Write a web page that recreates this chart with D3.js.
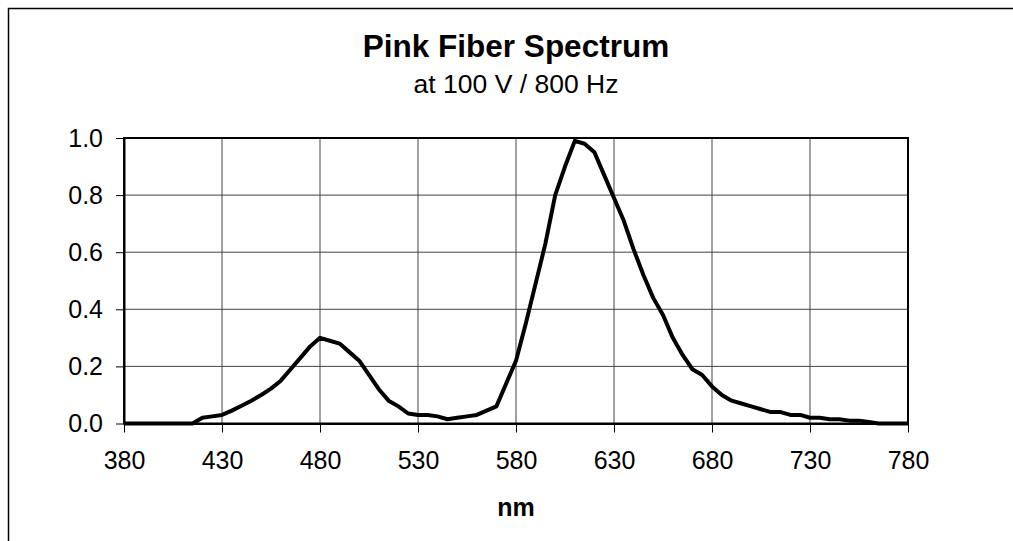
<!DOCTYPE html>
<html>
<head>
<meta charset="utf-8">
<script src="https://cdn.jsdelivr.net/npm/d3@7"></script>
<style>
  html, body { margin: 0; padding: 0; background: #fff; }
  svg { display: block; font-family: "Liberation Sans", Arial, sans-serif; }
</style>
</head>
<body>
<svg id="chart" width="1013" height="541"></svg>
<script>
// ---- Data ----
const wavelengths = [
  380,385,390,395,400,405,410,415,420,425,430,435,440,445,450,455,460,465,470,475,
  480,485,490,495,500,505,510,515,520,525,530,535,540,545,550,555,560,565,570,575,
  580,585,590,595,600,605,610,615,620,625,630,635,640,645,650,655,660,665,670,675,
  680,685,690,695,700,705,710,715,720,725,730,735,740,745,750,755,760,765,770,775,780
];
const intensity = [
  0,0,0,0,0,0,0,0,0.02,0.025,0.03,0.045,0.062,0.08,0.10,0.122,0.15,0.19,0.23,0.27,
  0.30,0.29,0.28,0.25,0.22,0.17,0.12,0.08,0.06,0.035,0.03,0.03,0.025,0.015,0.02,0.025,0.03,0.045,0.06,0.14,
  0.22,0.35,0.49,0.63,0.80,0.90,0.99,0.98,0.95,0.87,0.79,0.71,0.61,0.52,0.44,0.38,0.30,0.24,0.19,0.17,
  0.13,0.10,0.08,0.07,0.06,0.05,0.04,0.04,0.03,0.03,0.02,0.02,0.015,0.015,0.01,0.01,0.005,0,0,0,0
];
const xTicks = [380,430,480,530,580,630,680,730,780];
const yTicks = [0.0,0.2,0.4,0.6,0.8,1.0];
const titleText = "Pink Fiber Spectrum";
const subtitleText = "at 100 V / 800 Hz";
const xAxisTitle = "nm";

// ---- Layout ----
const svg = d3.select("#chart");
const plot = { left: 124, right: 908, top: 138, bottom: 423.5 };

const x = d3.scaleLinear().domain([380, 780]).range([plot.left, plot.right]);
const y = d3.scaleLinear().domain([0, 1]).range([plot.bottom, plot.top]);

// outer chart frame (extends past right/bottom edge)
svg.append("rect")
  .attr("x", 8.5).attr("y", 8.5)
  .attr("width", 1100).attr("height", 600)
  .attr("fill", "#fff").attr("stroke", "#000").attr("stroke-width", 1.5);

// gridlines
const grid = svg.append("g");
grid.selectAll("line.v").data(xTicks).join("line")
  .attr("x1", d => x(d)).attr("x2", d => x(d))
  .attr("y1", plot.top).attr("y2", plot.bottom)
  .attr("stroke", "#444").attr("stroke-width", 1);
grid.selectAll("line.h").data(yTicks).join("line")
  .attr("x1", plot.left).attr("x2", plot.right)
  .attr("y1", d => y(d)).attr("y2", d => y(d))
  .attr("stroke", "#444").attr("stroke-width", 1);

// plot border
svg.append("rect")
  .attr("x", plot.left).attr("y", plot.top)
  .attr("width", plot.right - plot.left).attr("height", plot.bottom - plot.top)
  .attr("fill", "none").attr("stroke", "#000").attr("stroke-width", 2);

// axes
const xAxis = d3.axisBottom(x).tickValues(xTicks).tickSize(9).tickSizeOuter(0).tickPadding(19)
  .tickFormat(d3.format("d"));
const gx = svg.append("g").attr("transform", `translate(0,${plot.bottom})`).call(xAxis);
gx.select(".domain").attr("stroke", "#000").attr("stroke-width", 2);
gx.selectAll(".tick line").attr("stroke", "#000").attr("stroke-width", 1);
gx.selectAll(".tick text").attr("font-size", 25).attr("fill", "#000")
  .attr("font-family", "Liberation Sans, Arial, sans-serif");

const yAxis = d3.axisLeft(y).tickValues(yTicks).tickSize(8).tickSizeOuter(0).tickPadding(13)
  .tickFormat(d3.format(".1f"));
const gy = svg.append("g").attr("transform", `translate(${plot.left},0)`).call(yAxis);
gy.select(".domain").attr("stroke", "#000").attr("stroke-width", 2);
gy.selectAll(".tick line").attr("stroke", "#000").attr("stroke-width", 1);
gy.selectAll(".tick text").attr("font-size", 25).attr("fill", "#000")
  .attr("font-family", "Liberation Sans, Arial, sans-serif");

// data line
const data = wavelengths.map((w, i) => ({ w, v: intensity[i] }));
svg.append("path")
  .datum(data)
  .attr("fill", "none")
  .attr("stroke", "#000")
  .attr("stroke-width", 4)
  .attr("stroke-linejoin", "round")
  .attr("d", d3.line().x(d => x(d.w)).y(d => y(d.v)));

// titles
const cx = (plot.left + plot.right) / 2;
svg.append("text").attr("x", cx).attr("y", 57)
  .attr("text-anchor", "middle").attr("font-size", 31.5).attr("font-weight", "bold")
  .text(titleText);
svg.append("text").attr("x", cx).attr("y", 93)
  .attr("text-anchor", "middle").attr("font-size", 26.5)
  .text(subtitleText);
svg.append("text").attr("x", cx).attr("y", 516)
  .attr("text-anchor", "middle").attr("font-size", 25).attr("font-weight", "bold")
  .text(xAxisTitle);
</script>
</body>
</html>
